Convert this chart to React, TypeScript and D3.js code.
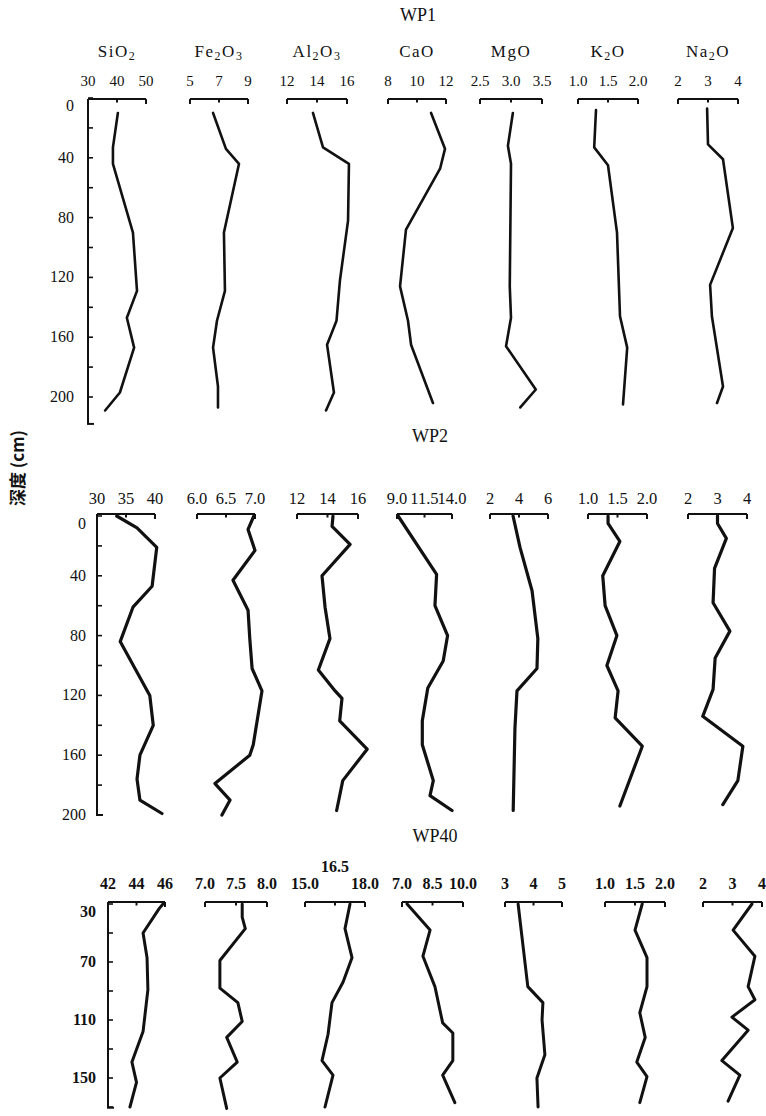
import React from 'react';
import * as d3 from 'd3';

// ---------- DATA (depth cm, value %) ----------
const oxideNames = ['SiO2', 'Fe2O3', 'Al2O3', 'CaO', 'MgO', 'K2O', 'Na2O'];

// WP1
const wp1SiO2 = [[10,40.3],[33,38.6],[44,38.6],[90,45.5],[129,46.9],[147,43.4],[167,45.9],[197,41.0],[209,35.9]];
const wp1Fe2O3 = [[10,6.59],[34,7.48],[44,8.38],[90,7.34],[129,7.41],[149,6.86],[167,6.59],[193,6.93],[207,6.93]];
const wp1Al2O3 = [[10,13.73],[33,14.4],[44,16.13],[82,16.07],[122,15.53],[149,15.3],[165,14.67],[197,15.13],[209,14.6]];
const wp1CaO = [[10,10.97],[34,11.93],[47,11.6],[88,9.24],[126,8.83],[149,9.38],[165,9.59],[204,11.1]];
const wp1MgO = [[10,3.03],[32,2.95],[44,3.0],[126,2.98],[147,3.0],[166,2.92],[195,3.4],[207,3.15]];
const wp1K2O = [[8,1.3],[33,1.27],[45,1.5],[90,1.65],[146,1.7],[167,1.82],[205,1.75]];
const wp1Na2O = [[7,2.97],[31,3.0],[41,3.5],[87,3.83],[125,3.07],[146,3.13],[193,3.5],[204,3.3]];

// WP2
const wp2SiO2 = [[0,33.4],[8,36.9],[21,40.3],[47,39.5],[61,36.2],[84,34.0],[120,39.1],[140,39.7],[160,37.4],[176,36.9],[190,37.4],[199,41.2]];
const wp2Fe2O3 = [[0,6.98],[9,6.88],[23,7.0],[43,6.62],[63,6.88],[82,6.91],[102,6.95],[117,7.12],[153,6.97],[160,6.91],[179,6.31],[190,6.57],[200,6.43]];
const wp2Al2O3 = [[0,14.36],[7,14.3],[19,15.48],[40,13.64],[61,13.84],[82,14.16],[103,13.4],[117,14.5],[122,14.95],[137,14.8],[156,16.6],[177,15.0],[197,14.6]];
const wp2CaO = [[0,9.1],[39,12.6],[60,12.45],[80,13.6],[97,13.2],[115,11.8],[137,11.3],[153,11.3],[177,12.3],[187,12.0],[197,14.0]];
const wp2MgO = [[0,3.59],[21,4.07],[50,4.9],[82,5.3],[102,5.24],[117,3.86],[142,3.72],[197,3.6]];
const wp2K2O = [[0,1.34],[5,1.34],[17,1.54],[40,1.25],[60,1.29],[80,1.49],[100,1.32],[117,1.51],[135,1.46],[154,1.92],[194,1.54]];
const wp2Na2O = [[0,3.0],[5,3.0],[15,3.3],[35,2.9],[58,2.85],[77,3.42],[95,2.92],[116,2.85],[134,2.5],[154,3.86],[177,3.69],[193,3.18]];

// WP40
const wp40SiO2 = [[30,45.86],[33,45.6],[50,44.46],[67,44.74],[89,44.8],[118,44.46],[139,43.68],[153,44.0],[170,43.54]];
const wp40Fe2O3 = [[30,7.6],[39,7.6],[47,7.65],[69,7.24],[88,7.24],[98,7.53],[111,7.6],[122,7.35],[139,7.52],[150,7.24],[171,7.35]];
const wp40Al2O3 = [[30,17.25],[47,17.0],[67,17.35],[84,16.9],[98,16.35],[120,16.15],[138,15.85],[148,16.4],[170,16.0]];
const wp40CaO = [[30,7.25],[48,8.38],[66,8.03],[87,8.62],[112,9.0],[119,9.5],[138,9.5],[148,9.0],[167,9.6]];
const wp40MgO = [[30,3.46],[87,3.8],[98,4.33],[110,4.3],[134,4.4],[150,4.12],[170,4.16]];
const wp40K2O = [[30,1.62],[48,1.5],[67,1.7],[87,1.7],[105,1.58],[122,1.67],[139,1.53],[149,1.7],[167,1.58]];
const wp40Na2O = [[30,3.66],[48,3.02],[66,3.76],[87,3.53],[96,3.76],[108,2.98],[117,3.53],[138,2.64],[148,3.25],[166,2.85]];

// Tick labels of each oxide axis
const wp1TickLabels = [['30','40','50'],['5','7','9'],['12','14','16'],['8','10','12'],['2.5','3.0','3.5'],['1.0','1.5','2.0'],['2','3','4']];
const wp2TickLabels = [['30','35','40'],['6.0','6.5','7.0'],['12','14','16'],['9.0','11.5','14.0'],['2','4','6'],['1.0','1.5','2.0'],['2','3','4']];
const wp40TickLabels = [['42','44','46'],['7.0','7.5','8.0'],['15.0','16.5','18.0'],['7.0','8.5','10.0'],['3','4','5'],['1.0','1.5','2.0'],['2','3','4']];

// Depth axis labels
const wp1DepthLabels = [0, 40, 80, 120, 160, 200];
const wp2DepthLabels = [0, 40, 80, 120, 160, 200];
const wp40DepthLabels = [30, 70, 110, 150];

// ---------- LAYOUT ----------
const panels = [
  {
    title: 'WP1', titleX: 418, titleY: 21,
    labelY: 86, barY: 99, y0: 98, slope: 1.495, dMin: 0, dMax: 218,
    depthLabels: wp1DepthLabels, minorStep: 20, depthLabelX: 74,
    cols: [[88,146],[190,248],[287,347],[388,446],[480,542],[578,638],[678,738]],
    tickLabels: wp1TickLabels,
    series: [wp1SiO2, wp1Fe2O3, wp1Al2O3, wp1CaO, wp1MgO, wp1K2O, wp1Na2O],
    lineW: 2.6, labelSize: 15, labelWeight: 'normal', showNames: true, raised: -1,
  },
  {
    title: 'WP2', titleX: 430, titleY: 442,
    labelY: 504, barY: 514, y0: 516, slope: 1.495, dMin: 0, dMax: 200,
    depthLabels: wp2DepthLabels, minorStep: 20, depthLabelX: 86,
    cols: [[97,155],[197,255],[297,358],[397,452],[490,548],[588,647],[688,747]],
    tickLabels: wp2TickLabels,
    series: [wp2SiO2, wp2Fe2O3, wp2Al2O3, wp2CaO, wp2MgO, wp2K2O, wp2Na2O],
    lineW: 3.2, labelSize: 16.5, labelWeight: 'normal', showNames: false, raised: -1,
  },
  {
    title: 'WP40', titleX: 435, titleY: 842,
    labelY: 889, barY: 902, y0: 904, slope: 1.45, dMin: 30, dMax: 170.5,
    depthLabels: wp40DepthLabels, minorStep: 20, depthLabelX: 96,
    cols: [[108,165],[205,267],[305,365],[402,463],[505,562],[605,665],[703,762]],
    tickLabels: wp40TickLabels,
    series: [wp40SiO2, wp40Fe2O3, wp40Al2O3, wp40CaO, wp40MgO, wp40K2O, wp40Na2O],
    lineW: 3.0, labelSize: 16, labelWeight: 'bold', showNames: false, raised: 2,
  },
];

const serif = 'Liberation Serif, Times New Roman, DejaVu Serif, serif';

function OxideName({ name, x, y }: { name: string; x: number; y: number }) {
  const parts = name.match(/[A-Za-z]+|\d+/g) || [];
  return (
    <text x={x} y={y} textAnchor="middle" style={{ fontFamily: serif, fontSize: 17 }} letterSpacing={1.5} fill="#111">
      {parts.map((p, i) =>
        /\d/.test(p) ? (
          <tspan key={i} style={{ fontSize: 12 }} dy={3}>{p}</tspan>
        ) : (
          <tspan key={i} dy={i > 0 && /\d/.test(parts[i - 1]) ? -3 : 0}>{p}</tspan>
        )
      )}
    </text>
  );
}

function Panel({ p }: { p: any }) {
  const ys = d3.scaleLinear().domain([p.dMin, p.dMax]).range([p.y0, p.y0 + p.slope * (p.dMax - p.dMin)]);
  const axisX = p.cols[0][0];
  const yBottom = ys(p.dMax);
  const minorTicks = d3.range(p.dMin, p.dMax + 0.01, p.minorStep);
  return (
    <g>
      <text x={p.titleX} y={p.titleY} textAnchor="middle" style={{ fontFamily: serif, fontSize: 18 }} fill="#111">{p.title}</text>
      {/* depth axis */}
      <line x1={axisX} x2={axisX} y1={p.barY} y2={yBottom} stroke="#111" strokeWidth={2} />
      <line x1={axisX - 1} x2={axisX + 6} y1={yBottom} y2={yBottom} stroke="#111" strokeWidth={2} />
      {minorTicks.map((d: number) => (
        <line key={'t' + d} x1={axisX} x2={axisX + 5} y1={ys(d)} y2={ys(d)} stroke="#111" strokeWidth={1.6} />
      ))}
      {p.depthLabels.map((d: number) => (
        <text key={'dl' + d} x={p.depthLabelX} y={(d === p.dMin ? ys(d) + 8 : ys(d)) + 5}
          textAnchor="end" style={{ fontFamily: serif, fontSize: 16, fontWeight: p.labelWeight }} fill="#111">{d}</text>
      ))}
      {p.cols.map((c: number[], i: number) => {
        const labels: string[] = p.tickLabels[i];
        const vals = labels.map((s) => parseFloat(s));
        const xs = d3.scaleLinear().domain([vals[0], vals[vals.length - 1]]).range(c);
        const line = d3.line<number[]>().x((d) => xs(d[1])).y((d) => ys(d[0]));
        return (
          <g key={i}>
            <line x1={c[0]} x2={c[1]} y1={p.barY} y2={p.barY} stroke="#111" strokeWidth={2.2} />
            {vals.map((v, j) => (
              <line key={'bt' + j} x1={xs(v)} x2={xs(v)} y1={p.barY} y2={p.barY + (j === 1 ? 3.5 : 5)} stroke="#111" strokeWidth={2} />
            ))}
            {labels.map((s, j) => (
              <text key={'lb' + j} x={xs(vals[j])} y={p.raised === i && j === 1 ? p.labelY - 17 : p.labelY}
                textAnchor="middle" style={{ fontFamily: serif, fontSize: p.labelSize, fontWeight: p.labelWeight }} fill="#111">{s}</text>
            ))}
            {p.showNames && <OxideName name={oxideNames[i]} x={(c[0] + c[1]) / 2} y={57} />}
            <path d={line(p.series[i]) || ''} fill="none" stroke="#111" strokeWidth={p.lineW} strokeLinejoin="round" strokeLinecap="round" />
          </g>
        );
      })}
    </g>
  );
}

export default function App() {
  return (
    <svg width={766} height={1116} viewBox="0 0 766 1116" style={{ position: 'absolute', left: 0, top: 0, background: '#fff' }}>
      <rect x={0} y={0} width={766} height={1116} fill="#fff" />
      {panels.map((p, i) => <Panel key={i} p={p} />)}
      <text transform="translate(24,468) rotate(-90)" textAnchor="middle"
        style={{ fontFamily: 'Noto Sans CJK SC, sans-serif', fontSize: 17, fontWeight: 'bold' }} fill="#111">深度 (cm)</text>
    </svg>
  );
}
